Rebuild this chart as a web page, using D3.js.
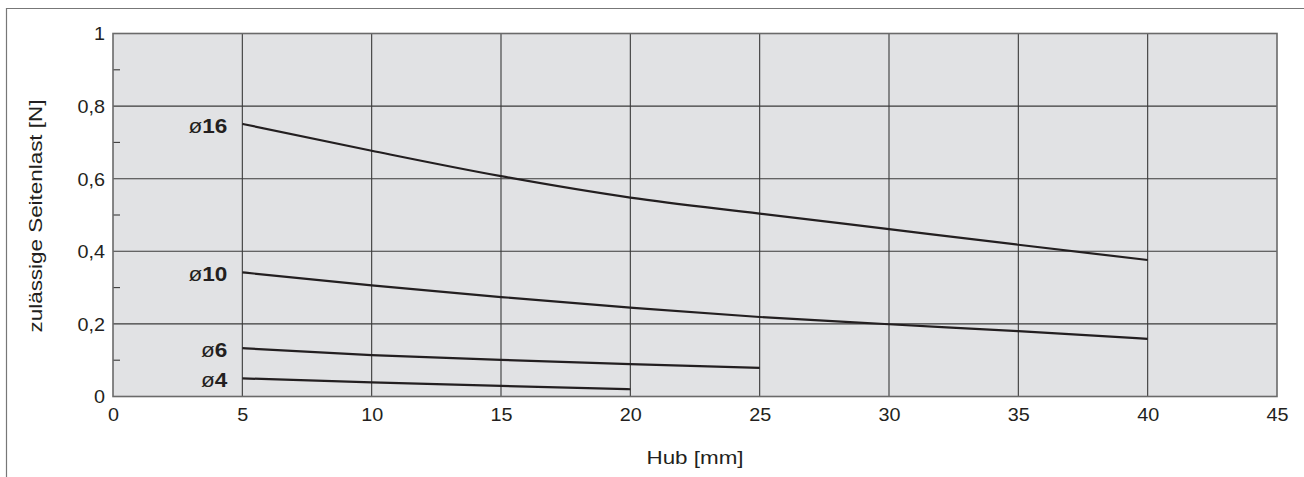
<!DOCTYPE html>
<html><head><meta charset="utf-8">
<script src="https://cdn.jsdelivr.net/npm/d3@7/dist/d3.min.js"></script>
<style>body{margin:0;background:#fff}svg{display:block}text{font-family:"Liberation Sans",Arial,sans-serif;fill:#231f20}</style>
</head><body>
<script>
const hub = [5, 10, 15, 20, 25, 30, 35, 40];
const d16 = [0.751, 0.677, 0.607, 0.548, 0.504, 0.461, 0.418, 0.376];
const d10 = [0.342, 0.306, 0.274, 0.245, 0.219, 0.199, 0.180, 0.159];
const d6 = [0.133, 0.114, 0.101, 0.089, 0.079];
const d4 = [0.050, 0.039, 0.029, 0.020];
const seriesNames = ["16", "10", "6", "4"];
const xTicks = [0, 5, 10, 15, 20, 25, 30, 35, 40, 45];
const yMajor = [0, 0.2, 0.4, 0.6, 0.8, 1];
const yMinor = [0.1, 0.3, 0.5, 0.7, 0.9];
const xTitle = "Hub [mm]";
const yTitle = "zulässige Seitenlast [N]";

const W = 1304, H = 477;
const L = 113, R = 1277, T = 33.5, B = 396.5;
const SX = 1.1;  // horizontal glyph stretch of tick labels in the reference
const SXT = 1.18; // stretch of axis titles
const svg = d3.select("body").append("svg").attr("width", W).attr("height", H);

const x = d3.scaleLinear().domain([0, 45]).range([L, R]);
const y = d3.scaleLinear().domain([0, 1]).range([B, T]);

// outer frame
svg.append("path").attr("d", `M6.5,477 V8.5 H1304`).attr("fill", "none").attr("stroke", "#777").attr("stroke-width", 1.2);

// plot background
svg.append("rect").attr("x", L).attr("y", T).attr("width", R - L).attr("height", B - T).attr("fill", "#e1e2e4");

// grid
svg.append("g").selectAll("line").data(xTicks.slice(1, -1)).join("line")
  .attr("x1", d => x(d)).attr("x2", d => x(d)).attr("y1", T).attr("y2", B)
  .attr("stroke", "#3a3a3a").attr("stroke-width", 1.1);
svg.append("g").selectAll("line").data(yMajor.slice(1, -1)).join("line")
  .attr("x1", L).attr("x2", R).attr("y1", d => y(d)).attr("y2", d => y(d))
  .attr("stroke", "#3a3a3a").attr("stroke-width", 1.1);
svg.append("g").selectAll("line").data(yMinor).join("line")
  .attr("x1", L).attr("x2", L + 7).attr("y1", d => y(d)).attr("y2", d => y(d))
  .attr("stroke", "#3a3a3a").attr("stroke-width", 1.1);

// border
svg.append("rect").attr("x", L).attr("y", T).attr("width", R - L).attr("height", B - T)
  .attr("fill", "none").attr("stroke", "#6a6a6a").attr("stroke-width", 1.6);

// x axis labels
const xAxis = d3.axisBottom(x).tickValues(xTicks).tickSize(0).tickPadding(0).tickFormat(d => d);
const gx = svg.append("g").attr("transform", `translate(0,${B})`).call(xAxis);
gx.select(".domain").remove();
gx.selectAll("text").attr("font-size", 18).attr("fill", "#231f20")
  .attr("font-family", '"Liberation Sans",Arial,sans-serif')
  .attr("y", 25).attr("dy", null).attr("transform", `scale(${SX},1)`);

// y axis labels
const yAxis = d3.axisLeft(y).tickValues(yMajor).tickSize(0).tickPadding(0)
  .tickFormat(d => d === 0 ? "0" : d === 1 ? "1" : String(d).replace(".", ","));
const gy = svg.append("g").attr("transform", `translate(${L},0)`).call(yAxis);
gy.select(".domain").remove();
gy.selectAll("text").attr("font-size", 18).attr("fill", "#231f20")
  .attr("font-family", '"Liberation Sans",Arial,sans-serif')
  .attr("x", -8 / SX).attr("dy", "0.35em").attr("transform", `scale(${SX},1)`);

// titles
svg.append("text").attr("transform", `translate(${(L + R) / 2},464) scale(${SXT},1)`)
  .attr("text-anchor", "middle").attr("font-size", 19).text(xTitle);
svg.append("text").attr("transform", `translate(42,216) rotate(-90) scale(${SXT},1)`)
  .attr("text-anchor", "middle").attr("font-size", 19).text(yTitle);

// curves
const series = [d16, d10, d6, d4];
const line = d3.line().x(d => x(d[0])).y(d => y(d[1])).curve(d3.curveMonotoneX);
series.forEach((vals, i) => {
  const pts = vals.map((v, j) => [hub[j], v]);
  svg.append("path").attr("d", line(pts)).attr("fill", "none")
    .attr("stroke", "#231f20").attr("stroke-width", 2.2);
  const t = svg.append("text")
    .attr("transform", `translate(${x(hub[0]) - 15},${y(vals[0]) + 9}) scale(1.1,1)`)
    .attr("text-anchor", "end").attr("font-size", 20.5);
  t.append("tspan").attr("font-weight", "normal").text("ø");
  t.append("tspan").attr("font-weight", "bold").text(seriesNames[i]);
});
</script>
</body></html>
